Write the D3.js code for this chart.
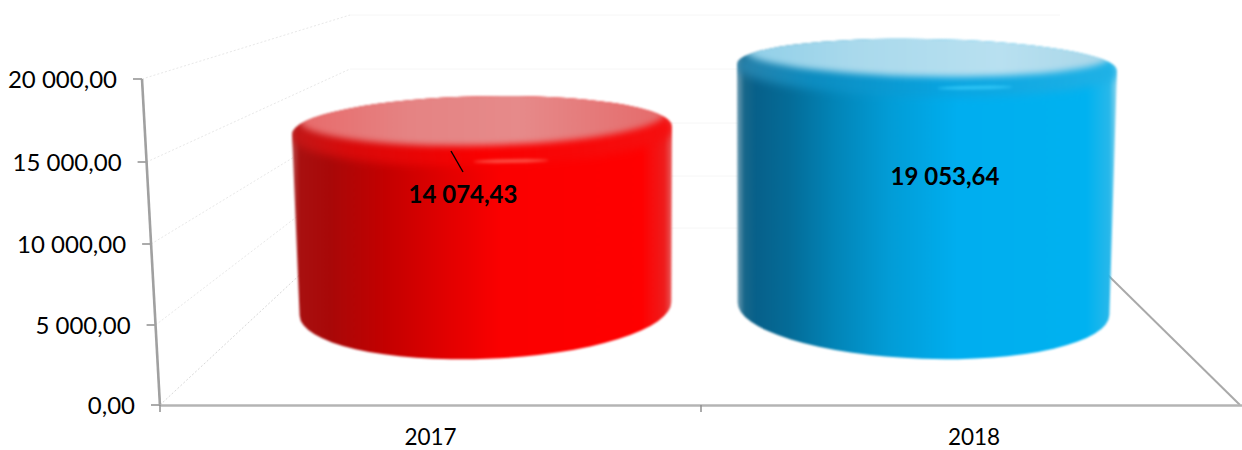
<!DOCTYPE html>
<html>
<head>
<meta charset="utf-8">
<script src="https://cdn.jsdelivr.net/npm/d3@7/dist/d3.min.js"></script>
<style>
html,body{margin:0;padding:0;background:#fff;}
svg{display:block;}
text{font-family:Lato,"Open Sans",sans-serif;fill:#000;}
</style>
</head>
<body>
<div id="chart"></div>
<script>
const categories = ["2017", "2018"];
const seriesValues = [14074.43, 19053.64];
const yTickValues = [0, 5000, 10000, 15000, 20000];
const frontWallPixels = [405, 325, 244, 162, 79];
const backWallPixels = [228, 176, 123, 69, 15];

const W = 1242, H = 450;
const svg = d3.select("#chart").append("svg").attr("width", W).attr("height", H);
const defs = svg.append("defs");

const nf = d3.formatLocale({decimal: ",", thousands: " ", grouping: [3], currency: ["", ""]}).format(",.2f");

// scales
const yFront = d3.scaleLinear().domain(yTickValues).range(frontWallPixels);
const yBack = d3.scaleLinear().domain(yTickValues).range(backWallPixels);
const xOnAxis = d3.scaleLinear().domain([405, 79]).range([160, 142]);
const xBand = d3.scaleBand().domain(categories).range([160, 1242]);
const topCentre = d3.scalePoint().domain(categories).range([482, 927]);
const baseCentre = d3.scalePoint().domain(categories).range([485.5, 923.5]);
const topTilt = d3.scalePoint().domain(categories).range([-1.2, 1]);
const baseTilt = d3.scalePoint().domain(categories).range([-2.2, 2]);
const yCyl = d3.scaleLinear().domain([0, 20000]).range([308.5, 55]);
const ryAt = d3.scaleLinear().domain([66, 131]).range([28, 34]);

// gradients and filters
const palettes = {
  "2017": {
    side: [[0,"#b84a4a"],[0.02,"#a81010"],[0.1,"#a80808"],[0.25,"#c40000"],[0.4,"#e00000"],[0.55,"#fb0000"],[0.92,"#ff0000"],[0.98,"#ee1c1c"],[1,"#e85a5a"]],
    rim: [[0,"#c01818"],[0.15,"#d80a0a"],[0.5,"#fa0000"],[1,"#f51010"]],
    face: [[0,"#e86a6a"],[0.3,"#e58383"],[0.6,"#e68a8a"],[1,"#e56a6a"]],
    glow: "#ff7a6a"
  },
  "2018": {
    side: [[0,"#6f9db3"],[0.02,"#17678a"],[0.05,"#07608a"],[0.14,"#046c98"],[0.26,"#0285b8"],[0.4,"#029cd6"],[0.58,"#00aeef"],[0.92,"#00b2f0"],[0.98,"#28b8ea"],[1,"#8fd6ee"]],
    rim: [[0,"#2a80a8"],[0.2,"#0c8cc0"],[0.55,"#08a4e0"],[1,"#20b2e6"]],
    face: [[0,"#8fcfe8"],[0.3,"#a9d9ec"],[0.7,"#b8e0f0"],[1,"#a8d6e8"]],
    glow: "#40d4ff"
  }
};
function gradient(id, stops) {
  const g = defs.append("linearGradient").attr("id", id)
    .attr("x1", 0).attr("x2", 1).attr("y1", 0).attr("y2", 0);
  stops.forEach(s => g.append("stop").attr("offset", s[0]).attr("stop-color", s[1]));
}
categories.forEach(c => {
  gradient("side" + c, palettes[c].side);
  gradient("rim" + c, palettes[c].rim);
  gradient("face" + c, palettes[c].face);
});
function blur(id, sd) {
  defs.append("filter").attr("id", id)
    .attr("x", "-10%").attr("y", "-60%").attr("width", "120%").attr("height", "220%")
    .attr("color-interpolation-filters", "sRGB")
    .append("feGaussianBlur").attr("stdDeviation", sd);
}
blur("b1", 0.8); blur("b3", 3); blur("b4", 4);

// back wall and floor
const grid = svg.append("g").attr("fill", "none");
grid.selectAll("line.side").data(yTickValues).join("line").attr("class", "side")
  .attr("x1", d => xOnAxis(yFront(d))).attr("y1", d => yFront(d))
  .attr("x2", 350).attr("y2", d => yBack(d))
  .attr("stroke", d => d === 0 ? "#d8d8d8" : "#e8e8e8").attr("stroke-width", 1).attr("stroke-dasharray", "2 2");
grid.selectAll("line.back").data(yTickValues).join("line").attr("class", "back")
  .attr("x1", 350).attr("y1", d => yBack(d))
  .attr("x2", 1060).attr("y2", d => yBack(d))
  .attr("stroke", "#f6f6f6").attr("stroke-width", 1);
grid.append("line")
  .attr("x1", 1060).attr("y1", yBack(0)).attr("x2", 1240).attr("y2", yFront(0))
  .attr("stroke", "#a9a9a9").attr("stroke-width", 2);

// cylinders
const rows = categories.map((c, i) => ({c, v: seriesValues[i]}));
const deg = Math.PI / 180;
function ends(cx, cy, rx, tilt) {
  const dx = rx * Math.cos(tilt * deg), dy = rx * Math.sin(tilt * deg);
  return {x0: cx - dx, y0: cy - dy, x1: cx + dx, y1: cy + dy};
}
function bodyPath(d) {
  const yt = yCyl(d.v), yb = yCyl(0);
  const rt = ryAt(yt), rb = ryAt(yb);
  const t = ends(topCentre(d.c), yt, 190, topTilt(d.c));
  const b = ends(baseCentre(d.c), yb, 186, baseTilt(d.c));
  return `M${t.x0},${t.y0}L${b.x0},${b.y0}` +
    `A186,${rb} ${baseTilt(d.c)} 0 0 ${b.x1},${b.y1}` +
    `L${t.x1},${t.y1}` +
    `A190,${rt} ${topTilt(d.c)} 0 0 ${t.x0},${t.y0}Z`;
}
rows.forEach(d => {
  defs.append("clipPath").attr("id", "clip" + d.c).append("path").attr("d", bodyPath(d));
});
const cyl = svg.selectAll("g.cyl").data(rows).join("g").attr("class", "cyl").attr("filter", "url(#b1)");
cyl.append("path").attr("fill", d => `url(#side${d.c})`).attr("d", bodyPath);
const inner = cyl.append("g").attr("clip-path", d => `url(#clip${d.c})`);
const elAttrs = (sel, rx, dy, dr) => sel
  .attr("cx", 0).attr("cy", 0).attr("rx", rx)
  .attr("ry", d => ryAt(yCyl(d.v)) - dr)
  .attr("transform", d => `translate(${topCentre(d.c)},${yCyl(d.v) + dy}) rotate(${topTilt(d.c)})`);
inner.append("ellipse").call(elAttrs, 192, 2, 0)
  .attr("fill", d => `url(#rim${d.c})`).attr("filter", "url(#b4)");
inner.append("ellipse").call(elAttrs, 184, -14, 4.5)
  .attr("fill", d => `url(#face${d.c})`).attr("filter", "url(#b3)");
const glowDx = [29, 48];
const glowDy = [-3, -7.5];
inner.append("ellipse")
  .attr("rx", 38).attr("ry", 1.5).attr("opacity", 0.8)
  .attr("transform", (d, i) => `translate(${topCentre(d.c) + glowDx[i]},${yCyl(d.v) + ryAt(yCyl(d.v)) + glowDy[i]}) rotate(-1)`)
  .attr("fill", d => palettes[d.c].glow).attr("filter", "url(#b1)");

// axes
const yAxis = svg.append("g").call(d3.axisLeft(yFront).tickValues(yTickValues).tickFormat(nf).tickSizeOuter(0).tickSize(9).tickPadding(16));
yAxis.select(".domain").remove();
yAxis.selectAll(".tick").attr("transform", d => `translate(${xOnAxis(yFront(d))},${yFront(d)})`);
yAxis.selectAll(".tick line").attr("stroke", "#8f8f8f").attr("stroke-width", 1.5);
yAxis.selectAll(".tick text").attr("y", 1).style("font-size", "24px").attr("text-anchor", "end");
yAxis.attr("font-family", null).attr("font-size", null);
svg.append("line")
  .attr("x1", xOnAxis(yFront(20000))).attr("y1", yFront(20000))
  .attr("x2", xOnAxis(yFront(0))).attr("y2", yFront(0) + 1)
  .attr("stroke", "#a0a0a0").attr("stroke-width", 2.6);

const xAxis = svg.append("g").attr("transform", `translate(0,${yFront(0)})`)
  .call(d3.axisBottom(xBand).tickSize(0).tickPadding(24));
xAxis.attr("font-family", null).attr("font-size", null);
xAxis.select(".domain").attr("stroke", "#b4b4b4").attr("stroke-width", 2.5);
xAxis.selectAll(".tick text").style("font-size", "22.5px").attr("dy", null).attr("y", 40)
  .attr("dx", (d, i) => i ? 2.5 : 0);
xAxis.selectAll("line.sep").data(categories.slice(0, 1).concat(["__start"])).join("line").attr("class", "sep")
  .attr("x1", d => d === "__start" ? xBand.range()[0] : xBand(d) + xBand.bandwidth())
  .attr("x2", d => d === "__start" ? xBand.range()[0] : xBand(d) + xBand.bandwidth())
  .attr("y1", 0).attr("y2", 7)
  .attr("stroke", "#8f8f8f").attr("stroke-width", 1.5);

// data labels
const labelOffsetX = [-19, 18];
const labelOffsetY = [64, 110];
svg.selectAll("text.val").data(rows).join("text").attr("class", "val")
  .attr("x", (d, i) => topCentre(d.c) + labelOffsetX[i])
  .attr("y", (d, i) => yCyl(d.v) + labelOffsetY[i])
  .attr("dy", "0.35em")
  .attr("text-anchor", "middle")
  .style("font-size", "24px").style("font-weight", 700)
  .text(d => nf(d.v));

// leader line of the first label
svg.append("line")
  .attr("x1", 451).attr("y1", 151).attr("x2", 463).attr("y2", 172)
  .attr("stroke", "#000").attr("stroke-width", 1.4);
</script>
</body>
</html>
